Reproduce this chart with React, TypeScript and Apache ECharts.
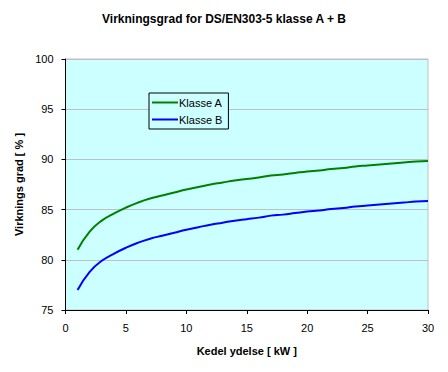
import React, { useEffect, useRef } from "react";
import * as echarts from "echarts";

const kw = [1, 2, 3, 4, 5, 6, 7, 8, 9, 10, 11, 12, 13, 14, 15, 16, 17, 18, 19, 20, 21, 22, 23, 24, 25, 26, 27, 28, 29, 30];
const klasseA = [81.0, 82.8, 83.9, 84.6, 85.2, 85.7, 86.1, 86.4, 86.7, 87.0, 87.25, 87.5, 87.7, 87.9, 88.05, 88.2, 88.4, 88.5, 88.65, 88.8, 88.9, 89.05, 89.15, 89.3, 89.4, 89.5, 89.6, 89.7, 89.8, 89.85];
const klasseB = [77.0, 78.8, 79.9, 80.6, 81.2, 81.7, 82.1, 82.4, 82.7, 83.0, 83.25, 83.5, 83.7, 83.9, 84.05, 84.2, 84.4, 84.5, 84.65, 84.8, 84.9, 85.05, 85.15, 85.3, 85.4, 85.5, 85.6, 85.7, 85.8, 85.85];

const FONT = "Liberation Sans, Arial, sans-serif";

export default function App() {
  const ref = useRef<HTMLDivElement>(null);
  useEffect(() => {
    if (!ref.current) return;
    const chart = echarts.init(ref.current, null, { renderer: "svg" });
    chart.setOption({
      animation: false,
      backgroundColor: "#ffffff",
      title: {
        text: "Virkningsgrad for DS/EN303-5 klasse A + B",
        left: "center",
        top: 8,
        textStyle: { fontFamily: FONT, fontSize: 12, fontWeight: "bold", color: "#000" },
      },
      legend: {
        orient: "vertical",
        left: 149,
        top: 93,
        width: 79,
        padding: [4, 6, 4, 3],
        itemGap: 6,
        itemWidth: 26,
        itemHeight: 2,
        icon: "rect",
        borderColor: "#000",
        borderWidth: 1,
        backgroundColor: "#ccffff",
        textStyle: { fontFamily: FONT, fontSize: 11, color: "#000", padding: [0, 0, 0, -4] },
        data: ["Klasse A", "Klasse B"],
      },
      grid: {
        left: 65.5,
        right: 20,
        top: 59,
        bottom: 62,
        show: true,
        backgroundColor: "#ccffff",
        borderColor: "#c0c0c0",
        borderWidth: 1,
      },
      xAxis: {
        type: "value",
        min: 0,
        max: 30,
        interval: 5,
        name: "Kedel ydelse [ kW ]",
        nameLocation: "middle",
        nameGap: 35,
        nameTextStyle: { fontFamily: FONT, fontSize: 11, fontWeight: "bold", color: "#000", verticalAlign: "top" },
        axisLine: { lineStyle: { color: "#000", width: 1 } },
        axisTick: { show: true, length: 4, lineStyle: { color: "#000" } },
        axisLabel: { margin: 12, fontFamily: FONT, fontSize: 11, color: "#000" },
        splitLine: { show: false },
      },
      yAxis: {
        type: "value",
        min: 75,
        max: 100,
        interval: 5,
        name: "Virknings grad [ % ]",
        nameLocation: "middle",
        nameGap: 38,
        nameRotate: 90,
        nameTextStyle: { fontFamily: FONT, fontSize: 11, fontWeight: "bold", color: "#000" },
        axisLine: { show: true, lineStyle: { color: "#000", width: 1 } },
        axisTick: { show: true, length: 4, lineStyle: { color: "#000" } },
        axisLabel: { margin: 12, fontFamily: FONT, fontSize: 11, color: "#000" },
        splitLine: { show: true, lineStyle: { color: "#c0c0c0", width: 1 } },
      },
      series: [
        {
          name: "Klasse A",
          type: "line",
          data: kw.map((x, i) => [x, klasseA[i]]),
          showSymbol: false,
          smooth: true,
          color: "#008000",
          lineStyle: { color: "#008000", width: 2 },
        },
        {
          name: "Klasse B",
          type: "line",
          data: kw.map((x, i) => [x, klasseB[i]]),
          showSymbol: false,
          smooth: true,
          color: "#0000ff",
          lineStyle: { color: "#0000ff", width: 2 },
        },
      ],
    });
    return () => chart.dispose();
  }, []);
  return <div ref={ref} style={{ width: 448, height: 372, position: "absolute", left: 0, top: 0 }} />;
}
